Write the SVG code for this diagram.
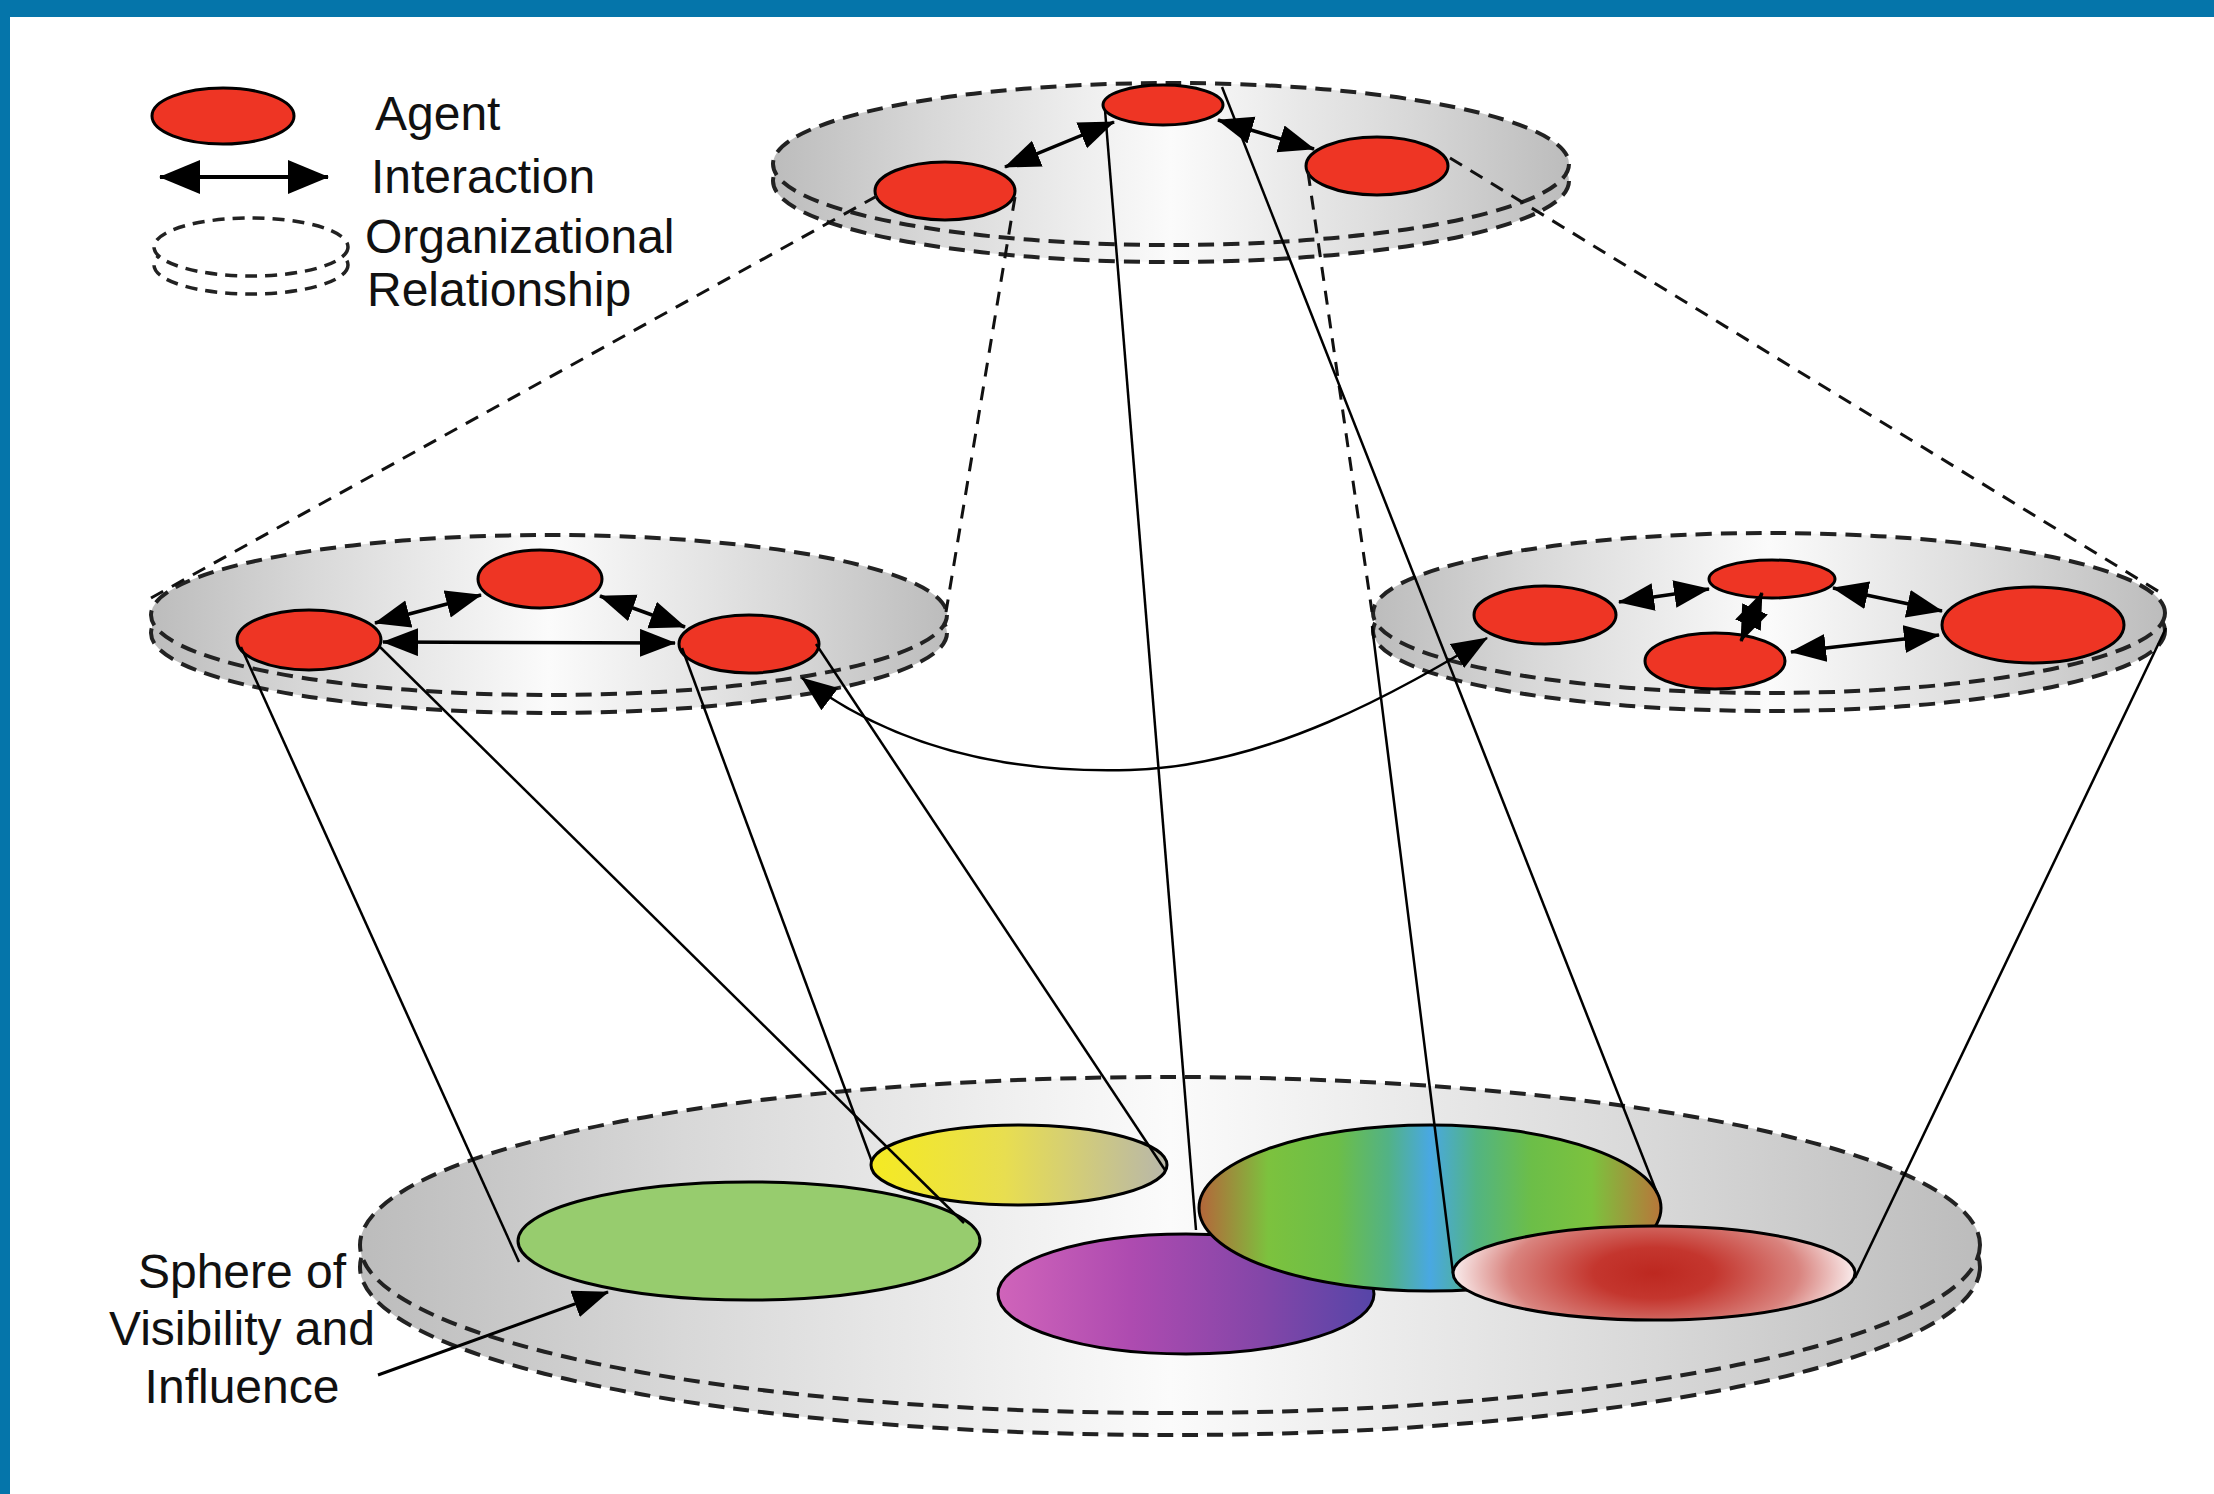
<svg xmlns="http://www.w3.org/2000/svg" width="2214" height="1494" viewBox="0 0 2214 1494">
<style>
.agent{fill:#EE3524;stroke:#000;stroke-width:3}
.org{stroke:#222;stroke-width:4;stroke-dasharray:16 9;fill:url(#disc)}
.orgw{stroke:#222;stroke-width:3.5;stroke-dasharray:12 8;fill:#fff}
.sph{stroke:#000;stroke-width:3}
.ln{stroke:#000;stroke-width:2.5;fill:none}
.dl{stroke:#111;stroke-width:3;fill:none;stroke-dasharray:14 10}
.ia{stroke:#000;stroke-width:3.5;fill:none;marker-start:url(#ah);marker-end:url(#ah)}
.lbl{font-family:"Liberation Sans",Arial,Helvetica,sans-serif;font-size:48px;fill:#111}
</style>
<defs>
<linearGradient id="disc" x1="0" y1="0" x2="1" y2="0">
<stop offset="0" stop-color="#bcbcbc"/>
<stop offset="0.2" stop-color="#d8d8d8"/>
<stop offset="0.5" stop-color="#fbfbfb"/>
<stop offset="0.8" stop-color="#d8d8d8"/>
<stop offset="1" stop-color="#bcbcbc"/>
</linearGradient>
<linearGradient id="gYel" x1="0" y1="0" x2="1" y2="0">
<stop offset="0" stop-color="#F5EA22"/>
<stop offset="0.45" stop-color="#E8DE50"/>
<stop offset="1" stop-color="#B8B7AA"/>
</linearGradient>
<linearGradient id="gPur" x1="0" y1="0" x2="1" y2="0">
<stop offset="0" stop-color="#D064BA"/>
<stop offset="0.35" stop-color="#AE4BB0"/>
<stop offset="0.7" stop-color="#8446A8"/>
<stop offset="1" stop-color="#5645A8"/>
</linearGradient>
<linearGradient id="gMul" x1="0" y1="0" x2="1" y2="0">
<stop offset="0" stop-color="#B4653A"/>
<stop offset="0.15" stop-color="#7CC23E"/>
<stop offset="0.3" stop-color="#6CBE48"/>
<stop offset="0.41" stop-color="#52B286"/>
<stop offset="0.5" stop-color="#49A8E2"/>
<stop offset="0.6" stop-color="#52B482"/>
<stop offset="0.72" stop-color="#6CBE48"/>
<stop offset="0.85" stop-color="#7CC23E"/>
<stop offset="1" stop-color="#B8763A"/>
</linearGradient>
<radialGradient id="gRed" cx="0.5" cy="0.5" r="0.5" gradientTransform="translate(0.5,0.5) scale(1,1.8) translate(-0.5,-0.5)">
<stop offset="0" stop-color="#BD2820"/>
<stop offset="0.3" stop-color="#C4362E"/>
<stop offset="0.72" stop-color="#D9837E"/>
<stop offset="1" stop-color="#F9ECEC"/>
</radialGradient>
<marker id="ah" markerUnits="userSpaceOnUse" markerWidth="40" markerHeight="30" refX="35" refY="14" orient="auto-start-reverse">
<path d="M0,0 L36,14 L0,28 z" fill="#000"/>
</marker>
<marker id="ahL" markerUnits="userSpaceOnUse" markerWidth="44" markerHeight="36" refX="40" refY="17" orient="auto-start-reverse">
<path d="M0,0 L41,17 L0,34 z" fill="#000"/>
</marker>
</defs>
<rect x="0" y="0" width="2214" height="1494" fill="#fff"/>
<rect x="0" y="0" width="2214" height="17" fill="#0575AA"/>
<rect x="0" y="0" width="10" height="1494" fill="#0575AA"/>

<g id="legend">
<ellipse class="agent" cx="223" cy="116" rx="71" ry="28"/>
<line x1="160" y1="177" x2="328" y2="177" stroke="#000" stroke-width="4" marker-start="url(#ahL)" marker-end="url(#ahL)"/>
<ellipse class="orgw" cx="251" cy="265" rx="97" ry="29"/>
<ellipse class="orgw" cx="251" cy="247" rx="97" ry="29"/>
<text class="lbl" x="375" y="130">Agent</text>
<text class="lbl" x="371" y="193">Interaction</text>
<text class="lbl" x="365" y="253">Organizational</text>
<text class="lbl" x="367" y="306">Relationship</text>
</g>

<g id="sphere-plane">
<ellipse class="org" cx="1170" cy="1267" rx="810" ry="168" stroke-dasharray="18 10"/>
<ellipse class="org" cx="1170" cy="1245" rx="810" ry="168" stroke-dasharray="18 10"/>
</g>
<g id="sphere-green"><ellipse class="sph" cx="749" cy="1241" rx="231" ry="59" fill="#97CC6E"/></g>
<g id="sphere-yellow"><ellipse class="sph" cx="1019" cy="1165" rx="148" ry="40" fill="url(#gYel)"/></g>
<g id="sphere-purple"><ellipse class="sph" cx="1186" cy="1294" rx="188" ry="60" fill="url(#gPur)"/></g>
<g id="sphere-multi"><ellipse class="sph" cx="1430" cy="1208" rx="231" ry="83" fill="url(#gMul)"/></g>
<g id="sphere-red"><ellipse class="sph" cx="1654" cy="1273" rx="201" ry="47" fill="url(#gRed)"/></g>

<g id="org-top">
<ellipse class="org" cx="1171" cy="181" rx="398" ry="81"/>
<ellipse class="org" cx="1171" cy="164" rx="398" ry="81"/>
</g>
<g id="org-left">
<ellipse class="org" cx="549" cy="633" rx="398" ry="80"/>
<ellipse class="org" cx="549" cy="615" rx="398" ry="80"/>
</g>
<g id="org-right">
<ellipse class="org" cx="1769" cy="631" rx="396" ry="80"/>
<ellipse class="org" cx="1769" cy="613" rx="396" ry="80"/>
</g>

<g id="agent-top-center"><ellipse class="agent" cx="1163" cy="105" rx="60" ry="20"/></g>
<g id="agent-top-left"><ellipse class="agent" cx="945" cy="191" rx="70" ry="29"/></g>
<g id="agent-top-right"><ellipse class="agent" cx="1377" cy="166" rx="71" ry="29"/></g>
<g id="agent-ml1"><ellipse class="agent" cx="309" cy="640" rx="72" ry="30"/></g>
<g id="agent-ml2"><ellipse class="agent" cx="540" cy="579" rx="62" ry="29"/></g>
<g id="agent-ml3"><ellipse class="agent" cx="749" cy="644" rx="70" ry="29"/></g>
<g id="agent-mr1"><ellipse class="agent" cx="1545" cy="615" rx="71" ry="29"/></g>
<g id="agent-mr2"><ellipse class="agent" cx="1772" cy="579" rx="63" ry="19"/></g>
<g id="agent-mr3"><ellipse class="agent" cx="1715" cy="661" rx="70" ry="28"/></g>
<g id="agent-mr4"><ellipse class="agent" cx="2033" cy="625" rx="91" ry="38"/></g>

<g id="connectors">
<line class="dl" x1="877" y1="196" x2="151" y2="598"/>
<line class="dl" x1="1015" y1="197" x2="946" y2="612"/>
<line class="dl" x1="1308" y1="172" x2="1372" y2="612"/>
<line class="dl" x1="1450" y1="158" x2="2166" y2="596"/>

<line class="ln" x1="241" y1="647" x2="519" y2="1262"/>
<line class="ln" x1="379" y1="646" x2="964" y2="1223"/>
<line class="ln" x1="682" y1="648" x2="872" y2="1162"/>
<line class="ln" x1="816" y1="644" x2="1165" y2="1170"/>
<line class="ln" x1="1105" y1="110" x2="1196" y2="1230"/>
<line class="ln" x1="1222" y1="87" x2="1657" y2="1193"/>
<line class="ln" x1="1372" y1="626" x2="1453" y2="1273"/>
<line class="ln" x1="2166" y1="628" x2="1855" y2="1278"/>

<line class="ia" x1="1005" y1="167" x2="1114" y2="122"/>
<line class="ia" x1="1218" y1="120" x2="1314" y2="149"/>
<line class="ia" x1="375" y1="623" x2="481" y2="595"/>
<line class="ia" x1="600" y1="596" x2="685" y2="627"/>
<line class="ia" x1="383" y1="642" x2="675" y2="643"/>
<line class="ia" x1="1619" y1="602" x2="1709" y2="589"/>
<line class="ia" x1="1762" y1="593" x2="1741" y2="641"/>
<line class="ia" x1="1833" y1="588" x2="1942" y2="611"/>
<line class="ia" x1="1791" y1="652" x2="1939" y2="635"/>

<path class="ln" d="M 802,678 C 860,722 960,775 1130,770 C 1270,766 1400,690 1487,638" stroke-width="3" marker-start="url(#ah)" marker-end="url(#ah)"/>

<line x1="378" y1="1375" x2="608" y2="1292" stroke="#000" stroke-width="3" marker-end="url(#ah)"/>
</g>

<g id="sphere-label">
<text class="lbl" text-anchor="middle" x="242" y="1288">Sphere of</text>
<text class="lbl" text-anchor="middle" x="242" y="1345">Visibility and</text>
<text class="lbl" text-anchor="middle" x="242" y="1403">Influence</text>
</g>
</svg>
